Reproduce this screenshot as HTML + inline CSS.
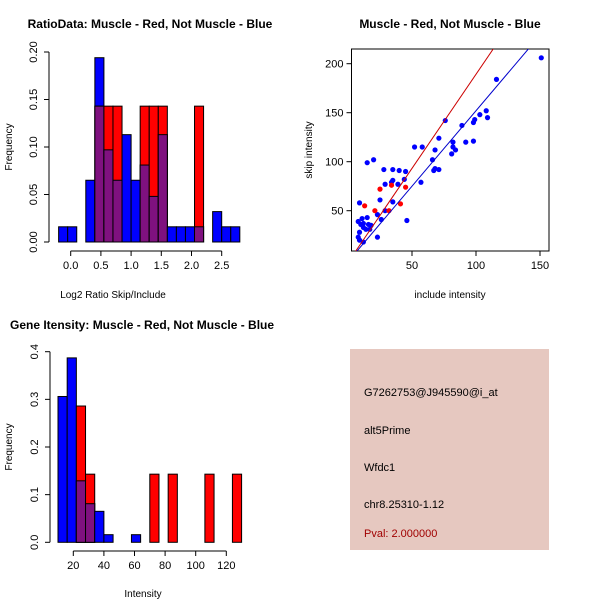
<!DOCTYPE html>
<html><head><meta charset="utf-8"><style>
body{margin:0;background:#fff;}
svg{display:block;font-family:"Liberation Sans",sans-serif;}
</style></head><body>
<svg id="c" width="600" height="600" xmlns="http://www.w3.org/2000/svg">
<rect width="600" height="600" fill="#fff"/>
</svg>
<script>
// ---- Ratio histogram data ----
const ratioBreaks = [-0.2,-0.05,0.1,0.25,0.4,0.55,0.7,0.85,1.0,1.15,1.3,1.45,1.6,1.75,1.9,2.05,2.2,2.35,2.5,2.65,2.8];
const ratioBlue = [0.016,0.016,0,0.065,0.194,0.097,0.065,0.113,0.065,0.081,0.048,0.113,0.016,0.016,0.016,0.016,0,0.032,0.016,0.016];
const ratioRed  = [0,0,0,0,0.143,0.143,0.143,0,0,0.143,0.143,0.143,0,0,0,0.143,0,0,0,0];
const ratioXTicks = [0.0,0.5,1.0,1.5,2.0,2.5];
const ratioXLabels = ["0.0","0.5","1.0","1.5","2.0","2.5"];
const ratioYTicks = [0,0.05,0.10,0.15,0.20];
const ratioYLabels = ["0.00","0.05","0.10","0.15","0.20"];
// ---- Intensity histogram data ----
const intBreaks = [10,16,22,28,34,40,46,52,58,64,70,76,82,88,94,100,106,112,118,124,130];
const intBlue = [0.306,0.387,0.129,0.081,0.065,0.016,0,0,0.016,0,0,0,0,0,0,0,0,0,0,0];
const intRed  = [0,0,0.286,0.143,0,0,0,0,0,0,0.143,0,0.143,0,0,0,0.143,0,0,0.143];
const intXTicks = [20,40,60,80,100,120];
const intXLabels = ["20","40","60","80","100","120"];
const intYTicks = [0,0.1,0.2,0.3,0.4];
const intYLabels = ["0.0","0.1","0.2","0.3","0.4"];
// ---- Scatter data ----
const blueX = [151,116,108,109,103,99,98,89,76,71,82,92,98,82,84,81,68,52,58,66,67,68,71,57,46,45,44,40,35,28,20,15,35,34,39,29,25,35,29,23,26,9,8,11,15,12,16,18,14,17,10,12,9,8,9,12,23];
const blueY = [206,184,152,145,148,143,140,137,142,124,120,120,121,115,112,108,112,115,115,102,91,93,92,79,40,90,82,91,92,92,102,99,81,79,77,77,61,59,50,46,41,58,39,42,43,37,36,35,31,31,36,33,28,23,20,18,23];
const redX = [13,21,25,34,45,41,32];
const redY = [55,50,72,76,74,57,50];
const redFit = [1.92,-2.8];   // slope, intercept
const blueFit = [1.54,-2.0];
const scXTicks = [50,100,150];
const scYTicks = [50,100,150,200];

const svg = document.getElementById('c');
const NS = "http://www.w3.org/2000/svg";
function mk(tag, attrs, name, parent){
  const e = document.createElementNS(NS, tag);
  for (const k in attrs) e.setAttribute(k, attrs[k]);
  
  
  (parent||svg).appendChild(e);
  return e;
}
function txt(x,y,s,name,opts){
  opts=opts||{};
  const t = mk('text',{x:x,y:y,'font-size':opts.size||11,'text-anchor':opts.anchor||'middle',fill:opts.fill||'#000','font-weight':opts.bold?'bold':'normal'},name);
  if(opts.rot) t.setAttribute('transform','rotate(-90 '+x+' '+y+')');
  t.textContent=s; return t;
}
const BLUE="#0000ff", RED="#ff0000", PURP="#7f117f";

function histogram(p){
  const sx=v=>p.x0+(v-p.xv0)*p.xs, sy=v=>p.y0-v*p.ys;
  for(let i=0;i<p.blue.length;i++){
    const b=p.blue[i], r=p.red[i], m=Math.min(b,r);
    const xa=sx(p.breaks[i]), xb=sx(p.breaks[i+1]);
    if(b>0){ const e=mk('rect',{x:xa,y:sy(b),width:xb-xa,height:sy(0)-sy(b),fill:BLUE,stroke:'#000','stroke-width':1},'blue-bar');}
    if(r>0){ const e=mk('rect',{x:xa,y:sy(r),width:xb-xa,height:sy(0)-sy(r),fill:RED,stroke:'#000','stroke-width':1},'red-bar');}
    if(m>0){ const e=mk('rect',{x:xa,y:sy(m),width:xb-xa,height:sy(0)-sy(m),fill:PURP,stroke:'#000','stroke-width':1},'overlap-bar');}
  }
  // y axis
  mk('line',{x1:p.yAxX,x2:p.yAxX,y1:sy(p.yTicks[0]),y2:sy(p.yTicks[p.yTicks.length-1]),stroke:'#000'},'y-axis');
  p.yTicks.forEach((v,i)=>{
    mk('line',{x1:p.yAxX-5,x2:p.yAxX,y1:sy(v),y2:sy(v),stroke:'#000'},'y-tick');
    txt(p.yAxX-12,sy(v),p.yLabels[i],'y-tick-label',{rot:true});
  });
  const xa=p.xAxY;
  mk('line',{x1:sx(p.xTicks[0]),x2:sx(p.xTicks[p.xTicks.length-1]),y1:xa,y2:xa,stroke:'#000'},'x-axis');
  p.xTicks.forEach((v,i)=>{
    mk('line',{x1:sx(v),x2:sx(v),y1:xa,y2:xa+5,stroke:'#000'},'x-tick');
    txt(sx(v),xa+18,p.xLabels[i],'x-tick-label');
  });
}
histogram({breaks:ratioBreaks,blue:ratioBlue,red:ratioRed,x0:70.7,xv0:0,xs:60.4,y0:242,ys:950,
  yAxX:49,yTicks:ratioYTicks,yLabels:ratioYLabels,xAxY:251,xTicks:ratioXTicks,xLabels:ratioXLabels});
histogram({breaks:intBreaks,blue:intBlue,red:intRed,x0:42.7,xv0:0,xs:1.53,y0:542.3,ys:476.5,
  yAxX:50,yTicks:intYTicks,yLabels:intYLabels,xAxY:551,xTicks:intXTicks,xLabels:intXLabels});

txt(150,28,'RatioData: Muscle - Red, Not Muscle - Blue','title-ratio',{bold:true,size:12});
txt(113,298,'Log2 Ratio Skip/Include','x-axis-title-ratio',{size:10});
txt(12,147,'Frequency','y-axis-title-ratio',{rot:true,size:10});
txt(10,329,'Gene Itensity: Muscle - Red, Not Muscle - Blue','title-intensity',{bold:true,size:12,anchor:'start'});
txt(143,597,'Intensity','x-axis-title-intensity',{size:10});
txt(12,447,'Frequency','y-axis-title-intensity',{rot:true,size:10});

// scatter
(function(){
  const L=351.5,R=549,T=49,B=251;
  const sx=v=>348+v*1.28, sy=v=>259.7-v*0.98;
  const clip=mk('clipPath',{id:'scclip'},'scatter-clip');
  mk('rect',{x:L,y:T,width:R-L,height:B-T},'clip-rect',clip);
  mk('rect',{x:L,y:T,width:R-L,height:B-T,fill:'none',stroke:'#000'},'scatter-box');
  const g=mk('g',{'clip-path':'url(#scclip)'},'scatter-plot-area');
  blueX.forEach((v,i)=>mk('circle',{cx:sx(v),cy:sy(blueY[i]),r:2.6,fill:BLUE},'blue-point',g));
  redX.forEach((v,i)=>mk('circle',{cx:sx(v),cy:sy(redY[i]),r:2.6,fill:RED},'red-point',g));
  [[redFit,'#cc0000','red-fit-line'],[blueFit,'#0000cc','blue-fit-line']].forEach(f=>{
    const a=f[0][0],b=f[0][1];
    mk('line',{x1:sx(0),y1:sy(b),x2:sx(200),y2:sy(a*200+b),stroke:f[1],'stroke-width':1},f[2],g);
  });
  scXTicks.forEach(v=>{
    mk('line',{x1:sx(v),x2:sx(v),y1:B,y2:B+5,stroke:'#000'},'x-tick');
    txt(sx(v),B+18,String(v),'x-tick-label');
  });
  scYTicks.forEach(v=>{
    mk('line',{x1:L-5,x2:L,y1:sy(v),y2:sy(v),stroke:'#000'},'y-tick');
    txt(L-8,sy(v)+4,String(v),'y-tick-label',{anchor:'end'});
  });
  txt(450,28,'Muscle - Red, Not Muscle - Blue','title-scatter',{bold:true,size:12});
  txt(450,298,'include intensity','x-axis-title-scatter',{size:10});
  txt(312,150,'skip intensity','y-axis-title-scatter',{rot:true,size:10});
})();

// info box
mk('rect',{x:350,y:349,width:199,height:201,fill:'#e6c8c0'},'info-box');
txt(364,396,'G7262753@J945590@i_at','probe-id',{anchor:'start'});
txt(364,434,'alt5Prime','event-type',{anchor:'start'});
txt(364,471,'Wfdc1','gene-name',{anchor:'start'});
txt(364,508,'chr8.25310-1.12','location',{anchor:'start'});
txt(364,537,'Pval: 2.000000','p-value',{anchor:'start',fill:'#a00000'});
</script>
</body></html>
